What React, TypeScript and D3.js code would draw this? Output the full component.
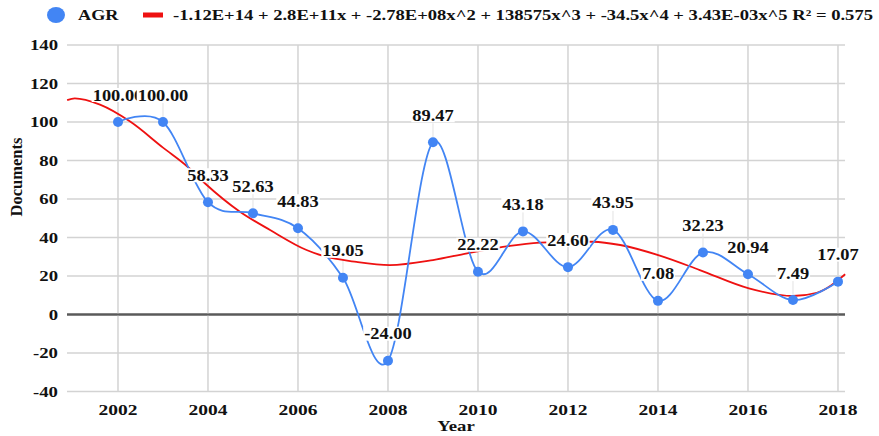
import React from "react";
import * as d3 from "d3";

const years = [2002, 2003, 2004, 2005, 2006, 2007, 2008, 2009, 2010, 2011, 2012, 2013, 2014, 2015, 2016, 2017, 2018];
const agr = [100.0, 100.0, 58.33, 52.63, 44.83, 19.05, -24.0, 89.47, 22.22, 43.18, 24.6, 43.95, 7.08, 32.23, 20.94, 7.49, 17.07];

const trendYears = [2000.87, 2001.04, 2001.6, 2002.27, 2003.0, 2003.56, 2003.93, 2004.71, 2005.38, 2006.19, 2006.56, 2007.3, 2008.04, 2009.0, 2009.76, 2010.71, 2011.38, 2012.0, 2012.56, 2013.16, 2014.04, 2014.93, 2016.02, 2017.0, 2017.53, 2018.16];
const trendValues = [111.4, 112.3, 109.0, 100.2, 86.7, 76.5, 68.2, 53.4, 43.9, 33.5, 30.4, 27.3, 25.7, 28.3, 31.8, 35.6, 37.3, 37.9, 37.8, 36.1, 30.6, 23.1, 13.6, 9.6, 11.3, 20.9];

const yTicks = [140, 120, 100, 80, 60, 40, 20, 0, -20, -40];
const xTicks = [2002, 2004, 2006, 2008, 2010, 2012, 2014, 2016, 2018];

const seriesName = "AGR";
const equation = "-1.12E+14 + 2.8E+11x + -2.78E+08x^2 + 138575x^3 + -34.5x^4 + 3.43E-03x^5 R\u00b2 = 0.575";
const yTitle = "Documents";
const xTitle = "Year";

const W = 879;
const H = 436;
const L = 67, R = 845, T = 45, B = 391.5;
const FONT = "Liberation Serif";
const BLUE = "#4285f4";
const RED = "#ee1111";

function labelWidth(s: string, fs: number, sx: number) {
  let w = 0;
  for (const c of s) {
    if (c === ".") w += 0.25;
    else if (c === "-") w += 0.333;
    else w += 0.5;
  }
  return w * fs * sx;
}

const txt: React.CSSProperties = { fontFamily: FONT, fontWeight: 700 };

export default function App() {
  const x = d3.scaleLinear().domain([2000.867, 2018.156]).range([L, R]);
  const y = d3.scaleLinear().domain([-40, 140]).range([B, T]);

  const blueLine = d3
    .line<number>()
    .x((_, i) => x(years[i]))
    .y((v) => y(v))
    .curve(d3.curveCardinal.tension(0));

  const redLine = d3
    .line<number>()
    .x((_, i) => x(trendYears[i]))
    .y((v) => y(v))
    .curve(d3.curveMonotoneX);

  const lfs = 16, lsx = 1.15;

  return (
    <div style={{ position: "absolute", left: 0, top: 0 }}>
      <svg width={W} height={H} style={{ display: "block", background: "#fff" }}>
        <rect x={0} y={0} width={W} height={H} fill="#fff" />
        {/* legend */}
        <ellipse cx={56} cy={15} rx={9} ry={8} fill={BLUE} />
        <text style={txt} transform="translate(78,20) scale(1.3,1)" fontSize={14} fill="#111">{seriesName}</text>
        <rect x={143} y={12.5} width={20} height={5} fill={RED} />
        <text style={txt} x={173} y={20} fontSize={14.5} fill="#111" textLength={700} lengthAdjust="spacingAndGlyphs">{equation}</text>

        {/* horizontal gridlines */}
        {yTicks.map((t) => (
          <line key={"h" + t} x1={L} x2={R} y1={y(t)} y2={y(t)} stroke={t === 0 ? "#5a5a5a" : "#d3d3d3"} strokeWidth={t === 0 ? 2 : 1.5} />
        ))}
        {/* vertical gridlines */}
        {xTicks.map((t) => (
          <line key={"v" + t} x1={x(t)} x2={x(t)} y1={T} y2={B} stroke="#d3d3d3" strokeWidth={1.5} />
        ))}
        <line x1={L} x2={R} y1={y(0)} y2={y(0)} stroke="#5a5a5a" strokeWidth={2} />

        {/* y tick labels */}
        {yTicks.map((t) => (
          <text key={"yl" + t} style={txt} transform={`translate(58,${y(t) + 5}) scale(1.25,1)`} textAnchor="end" fontSize={15} fill="#111">{t}</text>
        ))}
        {/* x tick labels */}
        {xTicks.map((t) => (
          <text key={"xl" + t} style={txt} transform={`translate(${x(t)},${415}) scale(1.3,1)`} textAnchor="middle" fontSize={15} fill="#111">{t}</text>
        ))}
        {/* axis titles */}
        <text style={txt} transform={`translate(22,${177}) rotate(-90)`} textAnchor="middle" fontSize={16.5} fill="#111">{yTitle}</text>
        <text style={txt} transform={`translate(456,431) scale(1.25,1)`} textAnchor="middle" fontSize={15} fill="#111">{xTitle}</text>

        {/* leader lines */}
        {agr.map((v, i) => (
          <line key={"ld" + i} x1={x(years[i])} x2={x(years[i])} y1={y(v) - 19} y2={y(v) - 5} stroke="#e2e2e2" strokeWidth={1} />
        ))}

        {/* trend */}
        <path d={redLine(trendValues) || ""} fill="none" stroke={RED} strokeWidth={1.8} />
        {/* series */}
        <path d={blueLine(agr) || ""} fill="none" stroke={BLUE} strokeWidth={1.8} />
        {agr.map((v, i) => (
          <circle key={"p" + i} cx={x(years[i])} cy={y(v)} r={5} fill={BLUE} />
        ))}

        {/* data labels */}
        {agr.map((v, i) => {
          const s = v.toFixed(2);
          const cx = x(years[i]);
          const cy = y(v) - 27;
          const w = labelWidth(s, lfs, lsx) + 2;
          return (
            <g key={"lb" + i}>
              <rect x={cx - w / 2} y={cy - 7} width={w} height={14} fill="#fff" />
              <text style={txt} transform={`translate(${cx},${cy + 5.5}) scale(${lsx},1)`} textAnchor="middle" fontSize={lfs} fill="#111">{s}</text>
            </g>
          );
        })}
      </svg>
    </div>
  );
}
